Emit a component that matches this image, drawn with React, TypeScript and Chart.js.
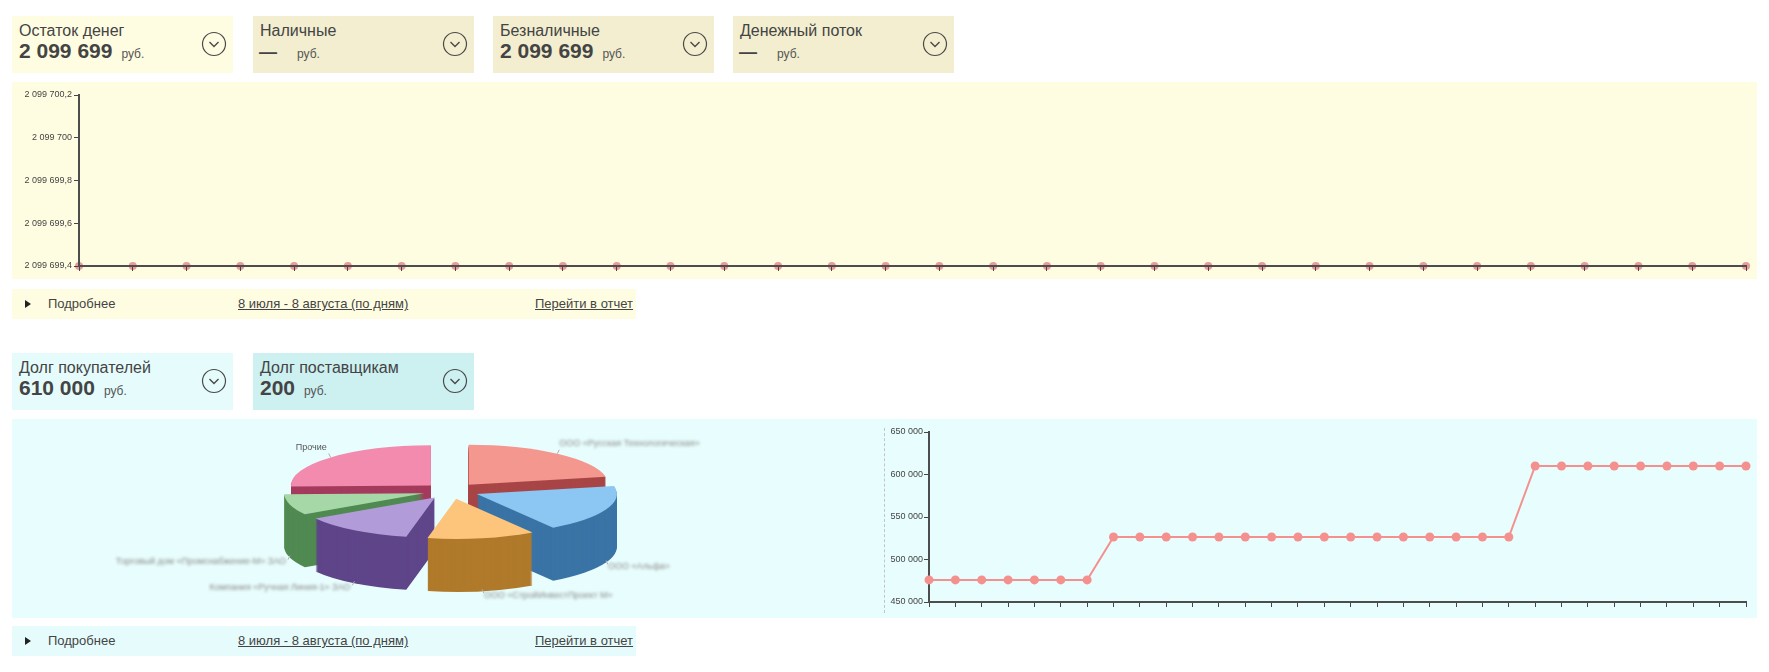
import React, { useEffect, useRef } from 'react';
import { Chart, registerables } from 'chart.js';

Chart.register(...registerables);

const FONT = "'Liberation Sans', Arial, sans-serif";
Chart.defaults.font.family = FONT;

// ---------- data ----------
const days = [
  '08.07', '09.07', '10.07', '11.07', '12.07', '13.07', '14.07', '15.07',
  '16.07', '17.07', '18.07', '19.07', '20.07', '21.07', '22.07', '23.07',
  '24.07', '25.07', '26.07', '27.07', '28.07', '29.07', '30.07', '31.07',
  '01.08', '02.08', '03.08', '04.08', '05.08', '06.08', '07.08', '08.08',
];

const cashBalance = [
  2099699.4, 2099699.4, 2099699.4, 2099699.4, 2099699.4, 2099699.4, 2099699.4, 2099699.4,
  2099699.4, 2099699.4, 2099699.4, 2099699.4, 2099699.4, 2099699.4, 2099699.4, 2099699.4,
  2099699.4, 2099699.4, 2099699.4, 2099699.4, 2099699.4, 2099699.4, 2099699.4, 2099699.4,
  2099699.4, 2099699.4, 2099699.4, 2099699.4, 2099699.4, 2099699.4, 2099699.4, 2099699.4,
];
const cashYTicks = [2099699.4, 2099699.6, 2099699.8, 2099700, 2099700.2];

const receivables = [
  476000, 476000, 476000, 476000, 476000, 476000, 476000,
  526500, 526500, 526500, 526500, 526500, 526500, 526500, 526500,
  526500, 526500, 526500, 526500, 526500, 526500, 526500, 526500,
  610000, 610000, 610000, 610000, 610000, 610000, 610000, 610000, 610000,
];
const receivablesYTicks = [450000, 500000, 550000, 600000, 650000];

const debtorNames = [
  'ООО «Русская Технологическая»',
  'ООО «Альфа»',
  'ООО «СтройИнвестПроект М»',
  'Компания «Ручная Линия-1» ЗАО',
  'Торговый дом «Промснабжение-М» ЗАО',
  'Прочие',
];
const debtorAmounts = [133000, 116000, 76000, 79000, 51000, 155000];
const debtorTopColors = ['#f4978f', '#8cc6f3', '#fdc57b', '#b29bd9', '#a6d7a6', '#f28bae'];
const debtorSideColors = ['#a84546', '#3a74a6', '#b07a2b', '#5f4589', '#508a52', '#a43b5d'];

// ---------- helpers ----------
function fmtRu(v: number): string {
  const r = Math.round(v * 10) / 10;
  const abs = Math.abs(r);
  const int = Math.floor(abs + 1e-7);
  const frac = Math.round((abs - int) * 10);
  const s = String(int).replace(/\B(?=(\d{3})+(?!\d))/g, ' ');
  return (r < 0 ? '-' : '') + s + (frac ? ',' + frac : '');
}

const AXIS = '#4d4d4d';

function axisScale(extra: any, onTop = false) {
  return {
    grid: { drawOnChartArea: false, drawTicks: true, tickLength: 5, color: '#454545', lineWidth: 1, z: onTop ? 1 : -1 },
    border: { display: true, color: AXIS, width: 2, z: onTop ? 1 : 0 },
    ...extra,
  };
}

const K = 0.286;
const DEPTH = 53;
const EXPLODE = 28;

const pie3d = {
  id: 'pie3d',
  beforeDatasetsDraw(chart: any) {
    const ctx: CanvasRenderingContext2D = chart.ctx;
    const arcs = chart.getDatasetMeta(0).data as any[];
    const items = arcs
      .map((arc, i) => ({ arc, i, mid: (arc.startAngle + arc.endAngle) / 2 }))
      .sort((a, b) => Math.sin(a.mid) - Math.sin(b.mid));
    for (const it of items) {
      const { arc, i, mid } = it;
      const dx = Math.cos(mid) * EXPLODE;
      const dy = Math.sin(mid) * EXPLODE;
      const cx = arc.x;
      const cy = arc.y;
      const squash = () => {
        ctx.translate(cx, cy);
        ctx.scale(1, K);
        ctx.translate(-cx, -cy);
        ctx.translate(dx, dy);
      };
      for (let d = DEPTH; d >= 1; d--) {
        ctx.save();
        ctx.translate(0, d);
        squash();
        ctx.fillStyle = debtorSideColors[i];
        ctx.beginPath();
        ctx.moveTo(cx, cy);
        ctx.arc(cx, cy, arc.outerRadius, arc.startAngle, arc.endAngle);
        ctx.closePath();
        ctx.fill();
        ctx.restore();
      }
      ctx.save();
      squash();
      arc.draw(ctx);
      ctx.restore();
    }
    // labels
    ctx.save();
    ctx.font = `9px ${FONT}`;
    ctx.textBaseline = 'middle';
    arcs.forEach((arc, i) => {
      const mid = (arc.startAngle + arc.endAngle) / 2;
      const ux = Math.cos(mid);
      const uy = Math.sin(mid);
      const px = arc.x + ux * (EXPLODE + arc.outerRadius);
      let py = arc.y + K * uy * (EXPLODE + arc.outerRadius);
      const lower = uy > 0.05;
      if (lower) py += DEPTH - 2;
      const right = ux > 0;
      ctx.filter = 'none';
      ctx.strokeStyle = '#b0b0b0';
      ctx.lineWidth = 1;
      ctx.beginPath();
      ctx.moveTo(px, py);
      ctx.lineTo(px + (right ? 2 : -2), py + (lower ? 4 : -4));
      ctx.stroke();
      const isOther = i === arcs.length - 1;
      ctx.textAlign = right ? 'left' : 'right';
      ctx.filter = isOther ? 'none' : 'blur(1.4px)';
      ctx.fillStyle = isOther ? '#555555' : '#8a8a8a';
      ctx.fillText(debtorNames[i], px + (right ? 2 : -4), lower ? py + 6 : py - 10);
    });
    ctx.filter = 'none';
    ctx.restore();
    return false;
  },
};

// ---------- UI pieces ----------
const Chevron = () => (
  <svg width={26} height={26} style={{ position: 'absolute', left: 189, top: 15 }}>
    <circle cx={13} cy={13} r={11.5} fill="none" stroke="#4a4a4a" strokeWidth={1.2} />
    <polyline points="8.5,11 13,15.5 17.5,11" fill="none" stroke="#4a4a4a" strokeWidth={1.4} />
  </svg>
);

function Card(props: { x: number; y: number; bg: string; title: string; value: string; dash?: boolean }) {
  const { x, y, bg, title, value, dash } = props;
  return (
    <div style={{ position: 'absolute', left: x - 8, top: y - 8, width: 221, height: 57, background: bg }}>
      <div style={{ position: 'absolute', left: 7, top: 7, fontSize: 16, lineHeight: '16px', color: '#444', whiteSpace: 'nowrap' }}>
        {title}
      </div>
      <div style={{ position: 'absolute', left: 7, top: 24, fontSize: 21, lineHeight: '21px', color: '#444', whiteSpace: 'nowrap', fontWeight: 'bold' }}>
        <span style={dash ? { fontSize: 18, marginLeft: -1 } : undefined}>{value}</span>
        <span style={{ fontSize: 12, fontWeight: 'normal', color: '#555', marginLeft: dash ? 20 : 9 }}>руб.</span>
      </div>
      <Chevron />
    </div>
  );
}

function InfoBar(props: { y: number; bg: string }) {
  return (
    <div style={{ position: 'absolute', left: 4, top: props.y - 8, width: 624, height: 30, background: props.bg, fontSize: 13, lineHeight: '30px', color: '#444', whiteSpace: 'nowrap' }}>
      <div style={{ position: 'absolute', left: 13, top: 11, width: 0, height: 0, borderLeft: '6px solid #222', borderTop: '4px solid transparent', borderBottom: '4px solid transparent' }} />
      <span style={{ position: 'absolute', left: 36 }}>Подробнее</span>
      <span style={{ position: 'absolute', left: 226, textDecoration: 'underline' }}>8 июля - 8 августа (по дням)</span>
      <span style={{ position: 'absolute', left: 523, textDecoration: 'underline' }}>Перейти в отчет</span>
    </div>
  );
}

export default function App() {
  const topRef = useRef<HTMLCanvasElement>(null);
  const pieRef = useRef<HTMLCanvasElement>(null);
  const lineRef = useRef<HTMLCanvasElement>(null);

  useEffect(() => {
    const tickFont = { family: FONT, size: 9 };

    const top = new Chart(topRef.current!, {
      type: 'line',
      data: {
        labels: days,
        datasets: [{
          data: cashBalance,
          borderColor: '#e99a9a',
          backgroundColor: '#e99a9a',
          pointBackgroundColor: '#e99a9a',
          pointBorderWidth: 0,
          pointRadius: 4,
          borderWidth: 2,
          clip: false as any,
        }],
      },
      options: {
        animation: false,
        responsive: false,
        maintainAspectRatio: false,
        layout: { padding: { left: 0, right: 11, top: 13, bottom: 0 } },
        plugins: { legend: { display: false }, tooltip: { enabled: false } },
        scales: {
          x: axisScale({
            ticks: { display: false, autoSkip: false },
            afterFit: (s: any) => { s.height = 13; },
          }, true),
          y: axisScale({
            min: cashYTicks[0],
            max: cashYTicks[cashYTicks.length - 1],
            afterBuildTicks: (s: any) => { s.ticks = cashYTicks.map((v) => ({ value: v })); },
            ticks: { font: tickFont, color: '#444', padding: 2, callback: (v: any) => fmtRu(Number(v)) },
            afterFit: (s: any) => { s.width = 67; },
          }, true),
        },
      } as any,
    });

    const pie = new Chart(pieRef.current!, {
      type: 'pie',
      data: {
        labels: debtorNames,
        datasets: [{ data: debtorAmounts, backgroundColor: debtorTopColors, borderWidth: 0 }],
      },
      options: {
        animation: false,
        responsive: false,
        maintainAspectRatio: false,
        radius: 140,
        layout: { padding: { left: 6, right: 0, top: 0, bottom: 55 } },
        plugins: { legend: { display: false }, tooltip: { enabled: false } },
      } as any,
      plugins: [pie3d as any],
    });

    const line = new Chart(lineRef.current!, {
      type: 'line',
      data: {
        labels: days,
        datasets: [{
          data: receivables,
          borderColor: '#f4918f',
          backgroundColor: '#f4918f',
          pointBackgroundColor: '#f4918f',
          pointBorderWidth: 0,
          pointRadius: 4.5,
          borderWidth: 2,
          tension: 0,
          clip: false as any,
        }],
      },
      options: {
        animation: false,
        responsive: false,
        maintainAspectRatio: false,
        layout: { padding: { left: 0, right: 11, top: 13, bottom: 0 } },
        plugins: { legend: { display: false }, tooltip: { enabled: false } },
        scales: {
          x: axisScale({
            ticks: { display: false, autoSkip: false },
            afterFit: (s: any) => { s.height = 16; },
          }),
          y: axisScale({
            min: receivablesYTicks[0],
            max: receivablesYTicks[receivablesYTicks.length - 1],
            afterBuildTicks: (s: any) => { s.ticks = receivablesYTicks.map((v) => ({ value: v })); },
            ticks: { font: tickFont, color: '#444', padding: 1, callback: (v: any) => fmtRu(Number(v)) },
            afterFit: (s: any) => { s.width = 45; },
          }),
        },
      } as any,
    });

    return () => {
      top.destroy();
      pie.destroy();
      line.destroy();
    };
  }, []);

  return (
    <div style={{ position: 'relative', width: 1753, height: 656, fontFamily: FONT }}>
      <Card x={12} y={16} bg="#fffde1" title="Остаток денег" value="2 099 699" />
      <Card x={253} y={16} bg="#f2eecf" title="Наличные" value="—" dash />
      <Card x={493} y={16} bg="#f2eecf" title="Безналичные" value="2 099 699" />
      <Card x={733} y={16} bg="#f2eecf" title="Денежный поток" value="—" dash />

      <div style={{ position: 'absolute', left: 4, top: 74, width: 1745, height: 197, background: '#fffde1' }}>
        <canvas ref={topRef} width={1745} height={197} style={{ display: 'block', width: 1745, height: 197 }} />
      </div>
      <InfoBar y={289} bg="#fffde1" />

      <Card x={12} y={353} bg="#e6fcfc" title="Долг покупателей" value="610 000" />
      <Card x={253} y={353} bg="#cdf0f1" title="Долг поставщикам" value="200" />

      <div style={{ position: 'absolute', left: 4, top: 411, width: 1745, height: 199, background: '#e8fdfd' }}>
        <canvas ref={pieRef} width={872} height={199} style={{ position: 'absolute', left: 0, top: 0, width: 872, height: 199 }} />
        <div style={{ position: 'absolute', left: 872, top: 9, height: 185, borderLeft: '1px dashed #c4c4c4' }} />
        <canvas ref={lineRef} width={873} height={199} style={{ position: 'absolute', left: 872, top: 0, width: 873, height: 199 }} />
      </div>
      <InfoBar y={626} bg="#e6fcfc" />
    </div>
  );
}
